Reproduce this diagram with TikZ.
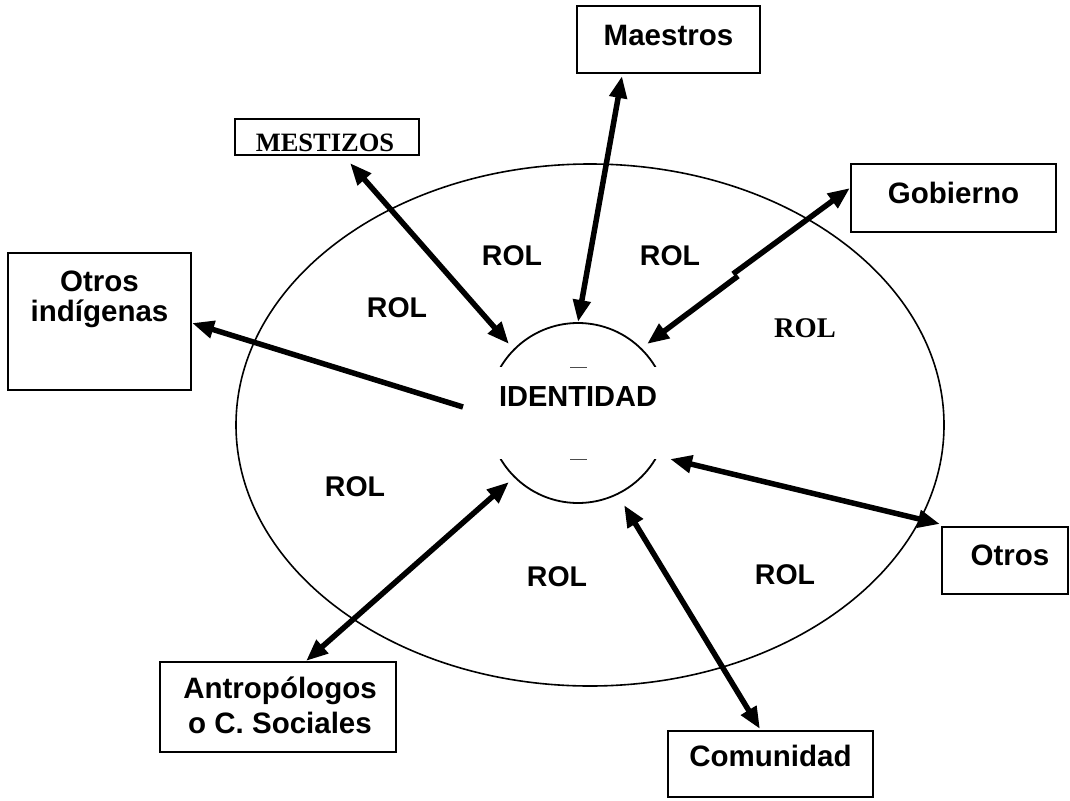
\documentclass[tikz,border=0pt]{standalone}
\usepackage{fontspec}
\setmainfont{Liberation Sans}
\newfontfamily\timesfont{Liberation Serif}
\usetikzlibrary{arrows.meta}
\begin{document}
\begin{tikzpicture}[x=1pt,y=-1pt,
  box/.style={draw=black, line width=2pt, inner sep=0pt},
  lbl/.style={font=\fontsize{29.5}{34}\selectfont\bfseries, inner sep=0pt, anchor=base},
  rol/.style={font=\fontsize{28.5}{32}\selectfont\bfseries, inner sep=0pt},
  link/.style={line width=5.5pt, {Triangle[length=22pt,width=17pt]}-{Triangle[length=22pt,width=17pt]}},
  onelink/.style={line width=5.5pt, -{Triangle[length=22pt,width=17pt]}},
  halflink/.style={line width=5.5pt, {Triangle[length=22pt,width=17pt]}-},
  ring/.style={line width=1.6pt}]
\useasboundingbox[fill=white] (0,0) rectangle (1070,800);

% outer field of roles
\draw[ring] (590,425) ellipse[x radius=354, y radius=261];

% identity core, opened at both sides by the white label field
\node[circle, draw, ring, line width=1.8pt, minimum size=180pt, inner sep=0pt] (core) at (578,413) {};
\node[fill=white, minimum width=230pt, minimum height=92pt, inner sep=0pt] (cover) at (578,413) {};
\draw[line width=1pt, black!70] (570,367) -- (587,367);
\draw[line width=1pt, black!70] (570,459) -- (587,459);
\node[lbl, font=\fontsize{29}{33}\selectfont\bfseries] (identidad) at (578,406) {IDENTIDAD};

% actors
\node[box, minimum width=183pt, minimum height=67pt] (maestros) at (668.5,39.5) {};
\node[lbl] (maestros-t) at (668.5,46) {Maestros};

\node[box, minimum width=184pt, minimum height=36pt] (mestizos) at (327,137) {};
\node[lbl, font=\timesfont\fontsize{26.5}{30}\selectfont\bfseries] (mestizos-t) at (325,151.5) {MESTIZOS};

\node[box, minimum width=205pt, minimum height=68pt] (gobierno) at (953.5,198) {};
\node[lbl] (gobierno-t) at (953.5,203) {Gobierno};

\node[box, minimum width=183pt, minimum height=137pt] (otrosind) at (99.5,321.5) {};
\node[lbl] (otrosind-t) at (99.5,291) {\begin{tabular}[t]{@{}c@{}}Otros\\[-4pt]indígenas\end{tabular}};

\node[box, minimum width=126pt, minimum height=67pt] (otros) at (1005,560.5) {};
\node[lbl] (otros-t) at (1010,565) {Otros};

\node[box, minimum width=236pt, minimum height=90pt] (antrop) at (278,707) {};
\node[lbl] (antrop-t) at (280,698) {\begin{tabular}[t]{@{}c@{}}Antropólogos\\[1pt]o C. Sociales\end{tabular}};

\node[box, minimum width=205pt, minimum height=66pt] (comunidad) at (770.5,764) {};
\node[lbl] (comunidad-t) at (770.5,766) {Comunidad};

% roles
\node[rol] (rol1) at (512,256) {ROL};
\node[rol] (rol2) at (670,256) {ROL};
\node[rol] (rol3) at (397,308) {ROL};
\node[rol, font=\timesfont\fontsize{28.5}{32}\selectfont\bfseries] (rol4) at (805,328) {ROL};
\node[rol] (rol5) at (355,487) {ROL};
\node[rol] (rol6) at (557,577) {ROL};
\node[rol] (rol7) at (785,575) {ROL};

% arrow ends
\coordinate (mes-a) at (350,163);  \coordinate (mes-b) at (509,344);
\coordinate (mae-a) at (622,76);   \coordinate (mae-b) at (578,322);
\coordinate (gob-a) at (850,188);  \coordinate (gob-b) at (647,344);
\coordinate (gob-m1) at (738,276); \coordinate (gob-m2) at (733,274);
\coordinate (oin-a) at (192,323);  \coordinate (oin-b) at (463,407);
\coordinate (otr-a) at (940,524);  \coordinate (otr-b) at (670,459);
\coordinate (com-a) at (760,729);  \coordinate (com-b) at (624,505);
\coordinate (ant-a) at (306,661);  \coordinate (ant-b) at (509,482);

% relations between the actors and the identity
\draw[link] (mes-a) -- (mes-b);
\draw[link] (mae-a) -- (mae-b);
\draw[halflink] (gob-b) -- (gob-m1);
\draw[onelink] (gob-m2) -- (gob-a);
\draw[onelink] (oin-b) -- (oin-a);
\draw[link] (otr-b) -- (otr-a);
\draw[link] (com-b) -- (com-a);
\draw[link] (ant-b) -- (ant-a);
\end{tikzpicture}
\end{document}
